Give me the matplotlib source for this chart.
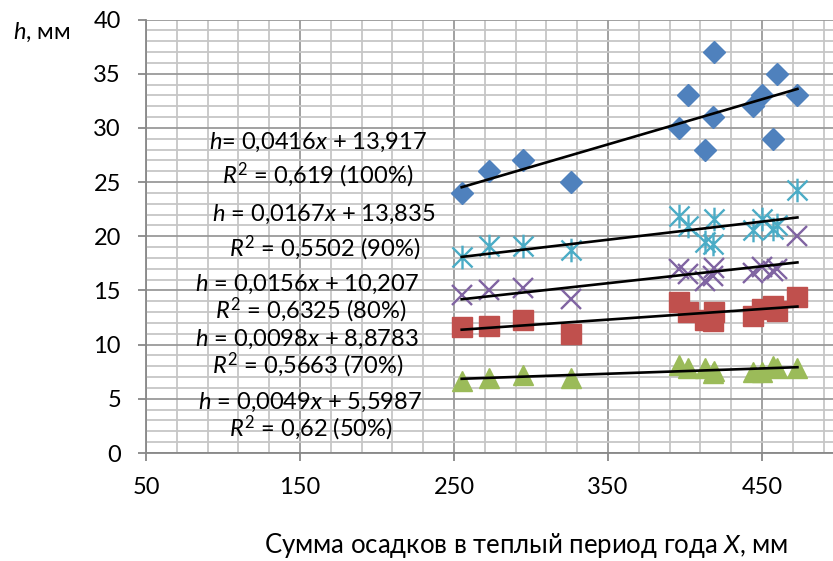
import numpy as np
import matplotlib
matplotlib.use("Agg")
import matplotlib.pyplot as plt
from matplotlib.ticker import MultipleLocator
from matplotlib.path import Path

plt.rcParams['font.family'] = ['Lato', 'Noto Sans', 'DejaVu Sans']
plt.rcParams['mathtext.fontset'] = 'custom'
plt.rcParams['mathtext.rm'] = 'Lato'
plt.rcParams['mathtext.it'] = 'Lato:italic'

# ---- data ----
x_vals = [255, 273, 295, 326, 396, 402, 413, 418, 419, 444, 450, 457, 460, 473]
h_100 = [24.0, 26.0, 27.0, 25.0, 30.0, 33.0, 28.0, 31.0, 37.0, 32.0, 33.0, 29.0, 35.0, 33.0]
h_90 = [18.1, 19.1, 19.1, 18.7, 21.9, 20.9, 19.5, 19.3, 21.6, 20.6, 21.6, 20.7, 21.0, 24.3]
h_80 = [14.6, 15.0, 15.2, 14.2, 17.0, 16.5, 15.9, 16.3, 17.1, 16.6, 17.2, 16.8, 17.0, 20.0]
h_70 = [11.65, 11.7, 12.3, 11.0, 13.9, 13.0, 12.3, 12.2, 13.0, 12.6, 13.3, 13.6, 13.1, 14.4]
h_50 = [6.6, 6.9, 7.2, 6.9, 8.1, 7.8, 7.8, 7.4, 7.6, 7.5, 7.5, 8.0, 7.8, 7.8]

slopes = [0.0416, 0.0167, 0.0156, 0.0098, 0.0049]
intercepts = [13.917, 13.835, 10.207, 8.8783, 5.5987]

eq_labels = [r"$h$= 0,0416$x$ + 13,917",
             r"$h$ = 0,0167$x$ + 13,835",
             r"$h$ = 0,0156$x$ + 10,207",
             r"$h$ = 0,0098$x$ + 8,8783",
             r"$h$ = 0,0049$x$ + 5,5987"]
r2_labels = [r"$R^{\mathrm{2}}$ = 0,619 (100%)",
             r"$R^{\mathrm{2}}$ = 0,5502 (90%)",
             r"$R^{\mathrm{2}}$ = 0,6325 (80%)",
             r"$R^{\mathrm{2}}$ = 0,5663 (70%)",
             r"$R^{\mathrm{2}}$ = 0,62 (50%)"]
x_ticks = [50, 150, 250, 350, 450]
y_ticks = [0, 5, 10, 15, 20, 25, 30, 35, 40]

# ---- figure ----
W, H = 833, 561
fig = plt.figure(figsize=(W / 100, H / 100), dpi=100)
x0, x1 = 50, 500
ax = fig.add_axes([146 / W, 1 - 453 / H, (x1 - x0) * 1.54 / W, (453 - 19.5) / H])
ax.set_xlim(x0, x1)
ax.set_ylim(0, 40)

ax.xaxis.set_major_locator(MultipleLocator(100, offset=50))
ax.xaxis.set_minor_locator(MultipleLocator(20, offset=10))
ax.yaxis.set_major_locator(MultipleLocator(5))
ax.yaxis.set_minor_locator(MultipleLocator(1))
ax.set_xticks(x_ticks)
ax.set_yticks(y_ticks)

ax.grid(which='minor', color='#c6c6c6', linewidth=1.3, zorder=0)
ax.grid(which='major', color='#9a9a9a', linewidth=1.3, zorder=0)
ax.set_axisbelow(True)
for s in ['top', 'right']:
    ax.spines[s].set_visible(False)
for s in ['left', 'bottom']:
    ax.spines[s].set_color('#888888')
    ax.spines[s].set_linewidth(1.3)
ax.tick_params(which='major', length=6, width=1.3, color='#888888', labelsize=17)
ax.tick_params(axis='y', which='major', pad=12)
ax.tick_params(axis='x', which='major', pad=11)
ax.tick_params(which='minor', length=0)

# asterisk marker
star = Path([(0, -1), (0, 1), (-0.85, -0.85), (0.85, 0.85), (-0.85, 0.85), (0.85, -0.85)],
            [Path.MOVETO, Path.LINETO, Path.MOVETO, Path.LINETO, Path.MOVETO, Path.LINETO])

xv = np.array(x_vals)
ax.plot(xv, h_100, linestyle='none', marker='D', markersize=11.5, color='#4F81BD', mec='#4F81BD', zorder=3)
ax.plot(xv, h_90, linestyle='none', marker=star, markersize=17, mfc='none', mec='#4BACC6', mew=1.7, zorder=3)
ax.plot(xv, h_80, linestyle='none', marker='x', markersize=14.5, mec='#8064A2', mew=1.7, zorder=3)
ax.plot(xv, h_70, linestyle='none', marker='s', markersize=14, color='#C0504D', mec='#C0504D', zorder=3)
ax.plot(xv, h_50, linestyle='none', marker='^', markersize=14, color='#9BBB59', mec='#9BBB59', zorder=3)

xr = np.array([xv.min(), xv.max()])
for k, b in zip(slopes, intercepts):
    ax.plot(xr, k * xr + b, color='black', linewidth=1.9, zorder=4)

eq_pos = [(161.7, 28.7), (165.6, 22.0), (154.5, 15.6), (154.5, 10.5), (156.5, 4.7)]
r2_pos = [(161.7, 25.6), (166.2, 18.9), (157.1, 13.2), (155.2, 8.1), (157.1, 2.3)]
for (px, py), t in zip(eq_pos, eq_labels):
    ax.text(px, py, t, fontsize=17, ha='center', va='center', zorder=5)
for (px, py), t in zip(r2_pos, r2_labels):
    ax.text(px, py, t, fontsize=17, ha='center', va='center', zorder=5)

fig.text(42 / W, 1 - 32 / H, r"$h$, мм", fontsize=17, ha='center', va='center')
fig.text(526 / W, 1 - 546 / H, r"Сумма осадков в теплый период года $X$, мм",
         fontsize=18.5, ha='center', va='center')

fig.savefig("out.png", dpi=100)
